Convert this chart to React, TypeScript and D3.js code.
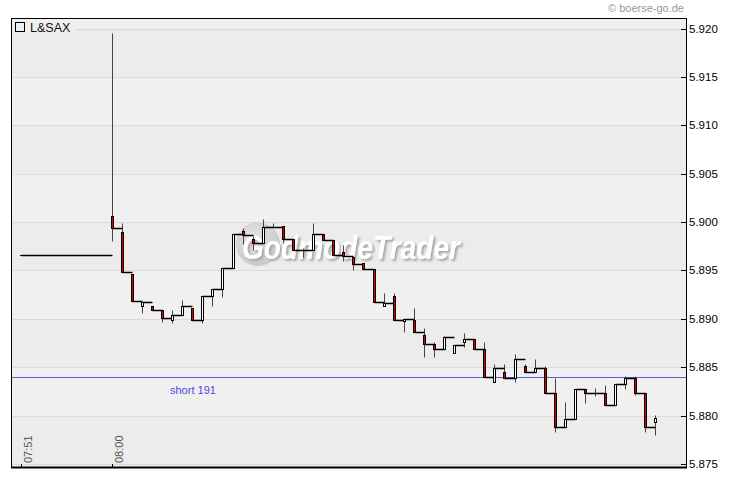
import React from "react";
import * as d3 from "d3";

const times = [
  "07:51",
  "08:00","08:01","08:02","08:03","08:04","08:05","08:06","08:07","08:08","08:09",
  "08:10","08:11","08:12","08:13","08:14","08:15","08:16","08:17","08:18","08:19",
  "08:20","08:21","08:22","08:23","08:24","08:25","08:26","08:27","08:28","08:29",
  "08:30","08:31","08:32","08:33","08:34","08:35","08:36","08:37","08:38","08:39",
  "08:40","08:41","08:42","08:43","08:44","08:45","08:46","08:47","08:48","08:49",
  "08:50","08:51","08:52","08:53","08:54",
];
const opens = [
  5.8966,
  5.9006,5.8990,5.8946,5.8913,5.8913,5.8909,5.8899,5.8904,5.8911,5.8899,
  5.8924,5.8931,5.8953,5.8991,5.8983,5.8978,5.8995,5.8996,5.8982,5.8971,
  5.8971,5.8988,5.8981,5.8969,5.8964,5.8958,5.8952,5.8913,5.8924,5.8898,
  5.8899,5.8883,5.8874,5.8869,5.8865,5.8876,5.8879,5.8869,5.8835,5.8845,
  5.8839,5.8851,5.8845,5.8849,5.8823,5.8788,5.8796,5.8828,5.8823,5.8823,
  5.8811,5.8833,5.8839,5.8823,5.8793,
];
const highs = [
  5.8966,
  5.9195,5.8999,5.8946,5.8917,5.8913,5.8909,5.8909,5.8919,5.8911,5.8924,
  5.8931,5.8953,5.8988,5.8994,5.8986,5.9003,5.8999,5.8996,5.8982,5.8973,
  5.8999,5.8988,5.8981,5.8976,5.8964,5.8958,5.8952,5.8927,5.8927,5.8900,
  5.8911,5.8891,5.8876,5.8882,5.8873,5.8885,5.8879,5.8876,5.8853,5.8853,
  5.8864,5.8853,5.8859,5.8851,5.8839,5.8814,5.8828,5.8828,5.8829,5.8832,
  5.8833,5.8841,5.8841,5.8823,5.8801,
];
const lows = [
  5.8966,
  5.8980,5.8948,5.8918,5.8906,5.8909,5.8897,5.8896,5.8904,5.8899,5.8896,
  5.8913,5.8923,5.8953,5.8977,5.8971,5.8978,5.8995,5.8978,5.8971,5.8964,
  5.8971,5.8981,5.8966,5.8960,5.8950,5.8952,5.8917,5.8913,5.8899,5.8886,
  5.8886,5.8861,5.8861,5.8869,5.8865,5.8871,5.8869,5.8840,5.8835,5.8839,
  5.8835,5.8845,5.8845,5.8823,5.8783,5.8788,5.8796,5.8813,5.8820,5.8811,
  5.8811,5.8828,5.8821,5.8783,5.8780,
];
const closes = [
  5.8966,
  5.8994,5.8948,5.8918,5.8917,5.8909,5.8901,5.8904,5.8913,5.8899,5.8924,
  5.8931,5.8953,5.8988,5.8987,5.8978,5.8995,5.8995,5.8982,5.8971,5.8971,
  5.8988,5.8981,5.8966,5.8965,5.8957,5.8952,5.8917,5.8916,5.8899,5.8900,
  5.8886,5.8874,5.8869,5.8881,5.8873,5.8879,5.8869,5.8840,5.8849,5.8839,
  5.8858,5.8845,5.8849,5.8823,5.8788,5.8796,5.8828,5.8823,5.8823,5.8811,
  5.8833,5.8839,5.8823,5.8788,5.8798,
];
const yTicks = [5.875, 5.88, 5.885, 5.89, 5.895, 5.9, 5.905, 5.91, 5.915, 5.92];
const xTickLabels = ["07:51", "08:00"];
const shortLevel = 5.8840;
const shortLabel = "short 191";
const title = "L&SAX";
const copyright = "© boerse-go.de";
const watermark = "GodmodeTrader";

const W = 730;
const H = 481;
const L = 11, T = 18, R = 686, B = 467;

export default function App() {
  const parse = d3.timeParse("%H:%M");
  const x = d3
    .scaleTime()
    .domain([parse("07:50")!, parse("08:57")!])
    .range([L, R - 0.3]);
  const y = d3.scaleLinear().domain([5.875, 5.92]).range([464, 28.5]);
  const font = "'Liberation Sans', Arial, sans-serif";
  const px = (t: string) => Math.round(x(parse(t)!)) + 0.5;
  const py = (v: number) => Math.round(y(v)) + 0.5;

  const bands = yTicks.slice(0, -1).map((v, i) => ({
    y0: y(yTicks[i + 1]),
    y1: y(v),
    dark: (yTicks.length - 2 - i) % 2 === 0,
  }));

  return (
    <svg
      width={W}
      height={H}
      style={{ position: "absolute", left: 0, top: 0, background: "#fff" }}
      fontFamily={font}
    >
      <defs>
        <radialGradient id="wmg" cx="40%" cy="35%" r="70%">
          <stop offset="0%" stopColor="#e4e4e4" />
          <stop offset="100%" stopColor="#c8c8c8" />
        </radialGradient>
        <filter id="wmshadow" x="-10%" y="-30%" width="130%" height="170%">
          <feDropShadow dx="2" dy="2" stdDeviation="0.8" floodColor="#a8a8a8" floodOpacity="1" />
        </filter>
        <clipPath id="plotclip">
          <rect x={L} y={T} width={R - L} height={B - T} />
        </clipPath>
      </defs>
      <rect x={L} y={T} width={R - L} height={B - T} fill="#efefef" />
      <g clipPath="url(#plotclip)">
        {bands.map((b, i) => (
          <rect key={i} x={L} y={b.y0} width={R - L} height={b.y1 - b.y0} fill={b.dark ? "#ececec" : "#f0f0f0"} />
        ))}
        {yTicks.map((v) => (
          <line key={v} x1={L} x2={R} y1={py(v)} y2={py(v)} stroke="#dadada" strokeWidth={1} />
        ))}
        {/* watermark */}
        <circle cx={258} cy={244} r={22} fill="url(#wmg)" />
        <text x={242} y={259} fontSize={33} fontWeight="bold" fontStyle="italic" fill="#ffffff"
          textLength={218} lengthAdjust="spacingAndGlyphs" filter="url(#wmshadow)">{watermark}</text>

        {/* short line */}
        <line x1={L} x2={R} y1={py(shortLevel)} y2={py(shortLevel)} stroke="#5a5ae0" strokeWidth={1} />
        <text x={170} y={394} fontSize={11} fill="#4a4ae6">{shortLabel}</text>

        {/* wicks */}
        {times.map((t, i) => (
          <line key={"w" + i} x1={px(t)} x2={px(t)} y1={py(highs[i])} y2={py(lows[i])} stroke="#444" strokeWidth={1} />
        ))}
        {/* step connectors at close */}
        {times.slice(0, -1).map((t, i) => (
          <line key={"c" + i} x1={px(t)} x2={px(times[i + 1])} y1={py(closes[i])} y2={py(closes[i])}
            stroke="#000" strokeWidth={1.5} />
        ))}
        {/* bodies */}
        {times.map((t, i) => {
          const top = Math.min(py(opens[i]), py(closes[i]));
          const bot = Math.max(py(opens[i]), py(closes[i]));
          const down = closes[i] < opens[i];
          return (
            <rect key={"b" + i} x={px(t) - 1} y={top} width={2} height={Math.max(bot - top, 0.01)}
              fill={down ? "#e00000" : "#ffffff"} stroke="#000" strokeWidth={1} />
          );
        })}
      </g>

      {/* frame */}
      <line x1={L + 0.5} x2={L + 0.5} y1={T} y2={B} stroke="#000" strokeWidth={1} />
      <line x1={L} x2={R} y1={T + 0.5} y2={T + 0.5} stroke="#000" strokeWidth={1} />
      <line x1={L} x2={R + 1} y1={B + 0.5} y2={B + 0.5} stroke="#000" strokeWidth={2} />
      <line x1={R + 0.5} x2={R + 0.5} y1={T} y2={B + 1} stroke="#000" strokeWidth={1} />

      {/* y axis */}
      {yTicks.map((v) => (
        <g key={"t" + v}>
          <line x1={R - 5} x2={R} y1={py(v)} y2={py(v)} stroke="#000" />
          <text x={689} y={y(v) + 4} fontSize={11.5} fill="#000">{d3.format(".3f")(v)}</text>
        </g>
      ))}

      {/* x axis */}
      {xTickLabels.map((t) => (
        <g key={"x" + t}>
          <line x1={px(t)} x2={px(t)} y1={B - 3} y2={B} stroke="#000" />
          <text transform={`translate(${px(t) + 10.5},${B - 4}) rotate(-90)`} fontSize={11} fill="#555">{t}</text>
        </g>
      ))}

      {/* title */}
      <rect x={13} y={20} width={62} height={13} fill="#efefef" />
      <rect x={15.5} y={22.5} width={9} height={9} fill="none" stroke="#000" strokeWidth={1} />
      <text x={30} y={31.5} fontSize={12.5} fill="#111">{title}</text>

      <text x={684} y={12} fontSize={11} fill="#999" textAnchor="end">{copyright}</text>
    </svg>
  );
}
